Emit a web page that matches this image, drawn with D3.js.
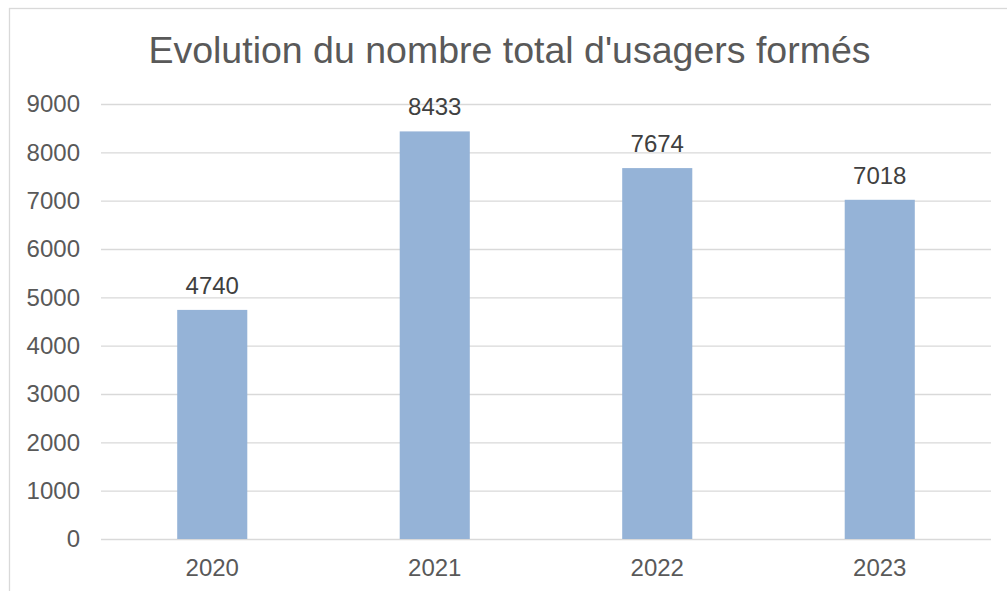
<!DOCTYPE html>
<html>
<head>
<meta charset="utf-8">
<script src="https://cdn.jsdelivr.net/npm/d3@7"></script>
<style>
  html, body { margin: 0; padding: 0; background: #fff; }
  svg { display: block; font-family: "Liberation Sans", Arial, sans-serif; }
</style>
</head>
<body>
<div id="chart"></div>
<script>
const years = ["2020", "2021", "2022", "2023"];
const usagers = [4740, 8433, 7674, 7018];
const yTicks = [0, 1000, 2000, 3000, 4000, 5000, 6000, 7000, 8000, 9000];
const title = "Evolution du nombre total d'usagers formés";

document.addEventListener("DOMContentLoaded", function () {
    const W = 1007, H = 591;
    const margin = { top: 104, right: 16, bottom: 52, left: 101 };
    const width = W - margin.left - margin.right;
    const height = H - margin.top - margin.bottom;

    const svg = d3.select("#chart")
        .append("svg")
        .attr("width", W)
        .attr("height", H);

    // chart frame (only top and left visible, the rest is cropped)
    svg.append("rect")
        .attr("x", 9.5)
        .attr("y", 8.5)
        .attr("width", W + 20)
        .attr("height", H + 20)
        .attr("fill", "#fff")
        .attr("stroke", "#d9d9d9")
        .attr("stroke-width", 1.3);

    svg.append("text")
        .attr("x", 509.5)
        .attr("y", 63)
        .attr("text-anchor", "middle")
        .attr("fill", "#595959")
        .attr("font-size", "37.5px")
        .text(title);

    const g = svg.append("g")
        .attr("transform", `translate(${margin.left},${margin.top})`);

    //scales
    const x = d3.scaleBand()
        .domain(years)
        .range([0, width])
        .paddingInner(0.685)
        .paddingOuter(0.3425);

    const y = d3.scaleLinear()
        .domain([0, 9000])
        .range([height, 0]);

    //gridlines + y labels
    const yAxis = g.append("g")
        .attr("class", "y-axis")
        .call(d3.axisLeft(y).tickValues(yTicks).tickSize(-width).tickPadding(21).tickFormat(d3.format("d")));
    yAxis.select(".domain").remove();
    yAxis.selectAll(".tick line")
        .attr("stroke", "#d9d9d9")
        .attr("stroke-width", 1.4);
    yAxis.selectAll(".tick text")
        .attr("fill", "#595959")
        .attr("font-size", "24px")
        .attr("font-family", "Liberation Sans, Arial, sans-serif");

    //bars
    g.selectAll(".bar")
        .data(usagers)
        .join("rect")
        .attr("class", "bar")
        .attr("x", (d, i) => x(years[i]))
        .attr("y", d => y(d))
        .attr("width", x.bandwidth())
        .attr("height", d => height - y(d))
        .attr("fill", "#95b3d7");

    //x axis labels
    const xAxis = g.append("g")
        .attr("class", "x-axis")
        .attr("transform", `translate(0,${height})`)
        .call(d3.axisBottom(x).tickSize(0).tickPadding(20));
    xAxis.select(".domain").remove();
    xAxis.selectAll(".tick text")
        .attr("fill", "#595959")
        .attr("font-size", "24px")
        .attr("font-family", "Liberation Sans, Arial, sans-serif");

    //data labels
    g.selectAll(".label")
        .data(usagers)
        .join("text")
        .attr("class", "label")
        .attr("x", (d, i) => x(years[i]) + x.bandwidth() / 2)
        .attr("y", d => y(d) - 16)
        .attr("text-anchor", "middle")
        .attr("fill", "#404040")
        .attr("font-size", "24px")
        .text(d => d);
});
</script>
</body>
</html>
